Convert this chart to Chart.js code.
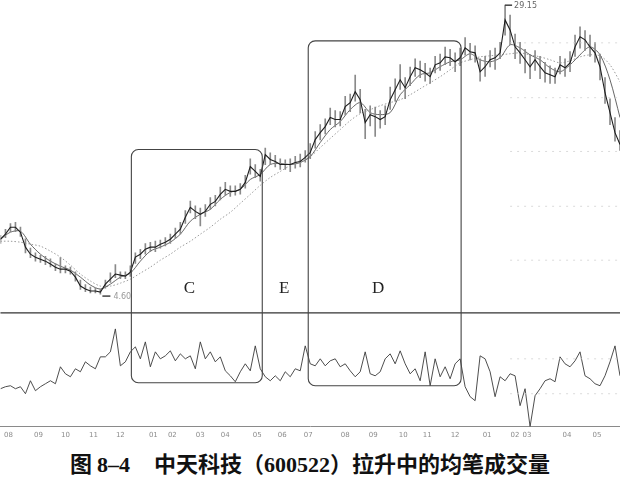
<!DOCTYPE html>
<html>
<head>
<meta charset="utf-8">
<script src="https://cdn.jsdelivr.net/npm/chart.js@4.4.1/dist/chart.umd.min.js"></script>
<style>
  html, body { margin: 0; padding: 0; background: #fff; }
  #wrap { position: relative; width: 620px; height: 481px; overflow: hidden; }
  #chart { position: absolute; left: 0; top: 0; }
  .caption {
    position: absolute; left: 0; top: 449px; width: 620px;
    text-align: center; color: #111;
    font: bold 22px "Noto Sans CJK SC", sans-serif; line-height: 26px;
  }
  .caption .num { font-family: "Liberation Serif", serif; font-size: 22px; }
  .caption .gap { display: inline-block; width: 24px; }
</style>
</head>
<body>
<div id="wrap">
  <canvas id="chart" width="620" height="443"></canvas>
  <div class="caption">图 <span class="num">8–4</span><span class="gap"></span>中天科技（<span class="num">600522</span>）拉升中的均笔成交量</div>
</div>
<script>
// month ticks on the bottom axis (position in sample index)
const monthLabels = ['08', '09', '10', '11', '12', '01', '02', '03', '04', '05', '06',
  '07', '08', '09', '10', '11', '12', '01', '02', '03', '04', '05'];
const monthPos = [1.6, 7.6, 13, 18.6, 24, 30.6, 34.4, 40, 45, 51.4, 56.4,
  61.6, 69, 74.6, 80.6, 85.4, 91, 97.4, 103, 105.4, 113.4, 119.4];

// price, one sample every few trading days
const closePrice = [9.26, 9.69, 10.28, 10.28, 9.86, 8.59, 7.99, 7.74, 7.57, 7.40,
  7.15, 6.89, 6.72, 6.72, 6.55, 6.04, 5.28, 5.03, 4.86, 4.86,
  4.77, 5.45, 5.87, 6.30, 6.21, 6.13, 6.47, 7.74, 7.99, 8.42,
  8.59, 8.59, 8.84, 9.01, 9.26, 9.69, 10.11, 11.13, 11.97, 11.63,
  11.38, 11.63, 12.23, 12.48, 13.07, 13.50, 13.33, 13.33, 13.50, 14.09,
  15.44, 15.02, 14.60, 16.46, 16.04, 15.87, 15.61, 15.61, 15.61, 15.78,
  15.87, 16.21, 16.63, 17.73, 18.32, 18.83, 19.60, 19.43, 19.43, 20.53,
  20.87, 21.80, 21.12, 19.17, 19.85, 19.68, 19.43, 19.68, 21.12, 21.97,
  22.81, 22.14, 23.07, 23.83, 23.66, 23.41, 23.07, 24.08, 24.25, 24.76,
  24.68, 24.34, 24.68, 25.52, 25.19, 25.10, 23.49, 23.92, 24.51, 24.68,
  25.10, 27.90, 27.05, 25.61, 25.10, 24.51, 23.92, 24.51, 23.92, 23.41,
  23.24, 23.07, 24.08, 23.83, 24.25, 25.61, 26.46, 26.20, 25.61, 25.10,
  23.92, 21.71, 20.02, 18.32, 17.31];
const highPrice = [9.6, 10.1, 10.6, 10.7, 10.3, 9.3, 8.5, 8.1, 7.9, 7.8,
  7.6, 7.2, 7.7, 7.0, 6.9, 6.5, 5.8, 5.4, 5.2, 5.1,
  5.0, 5.8, 6.4, 7.1, 6.5, 6.5, 7.0, 8.1, 8.4, 8.9,
  9.0, 9.1, 9.2, 9.4, 9.7, 10.2, 10.7, 11.7, 12.5, 12.1,
  11.9, 12.2, 12.8, 13.0, 13.7, 14.1, 13.8, 13.8, 14.0, 14.7,
  16.1, 15.6, 15.2, 17.0, 16.6, 16.4, 16.1, 16.0, 16.1, 16.3,
  16.5, 16.8, 17.4, 18.4, 19.0, 19.5, 20.4, 20.2, 20.1, 21.4,
  21.6, 23.2, 22.0, 20.3, 20.6, 20.5, 20.2, 20.6, 22.2, 22.9,
  24.1, 23.0, 23.9, 24.6, 24.4, 24.2, 23.8, 24.8, 25.0, 25.6,
  25.4, 25.1, 25.5, 26.4, 25.9, 25.7, 24.6, 24.8, 25.3, 25.5,
  26.0, 29.15, 28.3, 26.7, 26.0, 25.4, 24.9, 25.3, 24.8, 24.3,
  24.0, 23.8, 24.8, 24.6, 25.2, 26.6, 27.3, 27.0, 26.6, 26.0,
  25.0, 23.0, 21.2, 19.6, 18.5];
const lowPrice = [8.9, 9.4, 9.9, 9.9, 9.5, 8.1, 7.7, 7.4, 7.3, 7.1,
  6.9, 6.6, 6.4, 6.4, 6.3, 5.7, 5.0, 4.8, 4.7, 4.7,
  4.6, 5.1, 5.6, 6.0, 5.9, 5.9, 6.1, 7.2, 7.6, 8.0,
  8.2, 8.2, 8.5, 8.7, 8.9, 9.3, 9.7, 10.6, 11.5, 11.0,
  10.4, 11.2, 11.8, 12.1, 12.6, 13.0, 12.9, 13.0, 13.1, 13.6,
  14.8, 14.5, 14.2, 15.6, 15.6, 15.4, 15.2, 15.2, 15.0, 15.3,
  15.4, 15.8, 16.1, 17.0, 17.7, 18.2, 19.0, 18.8, 18.9, 19.8,
  20.1, 21.0, 20.0, 17.8, 18.9, 18.0, 18.7, 19.0, 20.3, 21.0,
  22.0, 21.2, 22.3, 23.1, 23.0, 22.7, 22.5, 23.4, 23.6, 24.1,
  24.0, 23.5, 24.0, 24.9, 24.5, 24.3, 22.7, 23.1, 23.9, 23.7,
  24.6, 26.6, 25.8, 24.6, 24.2, 23.4, 22.9, 23.6, 22.9, 22.6,
  22.5, 22.5, 23.3, 23.1, 23.5, 24.8, 25.5, 25.3, 24.8, 24.3,
  22.8, 20.8, 19.0, 17.6, 16.8];

// moving averages, one value every two samples
const midMA = [9.26, 9.86, 9.94, 8.84, 7.99, 7.40, 6.97, 6.64, 6.04, 5.37,
  5.03, 5.45, 6.04, 6.38, 7.40, 8.25, 8.59, 9.01, 9.69, 10.79,
  11.38, 11.80, 12.65, 13.24, 13.50, 14.34, 14.77, 15.61, 15.70, 15.61,
  15.78, 16.29, 17.48, 18.58, 19.26, 20.27, 20.87, 20.02, 19.85, 20.02,
  21.54, 22.39, 23.24, 23.41, 23.92, 24.34, 24.51, 25.02, 24.51, 24.34,
  24.68, 25.78, 25.52, 24.93, 24.51, 23.83, 23.49, 24.08, 24.93, 25.61,
  24.93, 22.81, 19.60];
const longMA = [9.09, 9.09, 9.01, 8.84, 8.67, 8.25, 7.74, 7.06, 6.30, 5.71,
  5.28, 5.28, 5.53, 5.87, 6.38, 6.89, 7.48, 7.99, 8.59, 9.09,
  9.69, 10.28, 10.96, 11.55, 12.31, 13.07, 13.84, 14.51, 15.02, 15.53,
  15.95, 16.29, 17.05, 17.82, 18.58, 19.34, 19.93, 20.27, 20.61, 20.87,
  21.12, 21.54, 22.05, 22.56, 23.07, 23.66, 24.25, 24.51, 24.76, 24.85,
  24.93, 25.02, 25.10, 24.93, 24.76, 24.51, 24.25, 24.42, 24.76, 24.93,
  24.85, 24.08, 22.64];

// 均笔成交量 (lower panel)
const perTrade = [3.8, 4.0, 4.1, 3.8, 4.0, 3.3, 4.6, 3.6, 4.0, 4.3,
  4.6, 4.3, 6.0, 5.3, 5.0, 5.8, 5.5, 6.5, 6.1, 5.8,
  7.0, 7.0, 7.5, 9.8, 6.1, 6.5, 7.5, 8.0, 6.8, 8.5,
  6.0, 7.5, 6.8, 7.1, 7.6, 6.6, 7.3, 6.8, 7.1, 5.8,
  8.5, 6.8, 7.5, 6.5, 7.0, 5.6, 5.1, 4.5, 5.5, 6.3,
  5.6, 8.1, 5.8, 5.0, 4.6, 5.1, 4.6, 5.5, 5.0, 5.8,
  5.6, 8.1, 6.3, 6.1, 6.8, 6.1, 6.6, 6.8, 6.0, 6.3,
  5.6, 5.0, 5.5, 7.5, 5.3, 5.1, 5.5, 6.8, 7.3, 6.3,
  7.6, 6.3, 5.3, 5.8, 4.6, 7.5, 4.1, 6.8, 5.0, 6.0,
  4.8, 6.3, 6.8, 4.0, 3.0, 2.6, 7.1, 6.8, 5.5, 3.0,
  5.0, 4.6, 5.3, 5.1, 2.1, 3.8, 0.0, 3.1, 3.8, 4.6,
  4.8, 4.5, 7.0, 6.3, 6.0, 6.6, 7.5, 5.1, 4.8, 4.3,
  4.1, 5.1, 6.5, 8.1, 5.1];

// axis ranges of the two panels (share one plot area)
const priceMin = -6.66, priceMax = 29.59;
const volMin = 0, volMax = 42.8;
const panelSplit = 11.4;            // top of lower panel, in volume units

// faint reference lines on the right
const gridPrices = [25.95, 21.29, 16.72, 12.06, 7.48];
const gridVolume = [6.8, 3.3];

// marked boxes: C and D; E is the gap between them
const boxFrom = [26.2, 61.6];
const boxTo = [52.4, 92.2];
const boxTop = [16.88, 26.12];     // price units
const boxBottom = [4.4, 4.1];      // volume units
const sectionNames = ['C', 'E', 'D'];
const sectionPos = [37.8, 56.8, 75.6];
const sectionPrice = 5.1;

const peakIndex = 101, troughIndex = 20;

function roundBox(ctx, l, t, r, b, rad) {
  ctx.beginPath();
  ctx.moveTo(l + rad, t);
  ctx.arcTo(r, t, r, b, rad);
  ctx.arcTo(r, b, l, b, rad);
  ctx.arcTo(l, b, l, t, rad);
  ctx.arcTo(l, t, r, t, rad);
  ctx.closePath();
  ctx.stroke();
}

const overlay = {
  id: 'overlay',
  afterDatasetsDraw(chart) {
    const { ctx, chartArea } = chart;
    const x = chart.scales.x, y = chart.scales.y, yv = chart.scales.yVol;
    ctx.save();

    // dotted guide lines on the right side
    ctx.strokeStyle = '#d2d2d2';
    ctx.lineWidth = 0.8;
    ctx.setLineDash([2, 5]);
    const gl = x.getPixelForValue(102), gr = chartArea.right;
    gridPrices.forEach(p => {
      const py = y.getPixelForValue(p);
      ctx.beginPath(); ctx.moveTo(gl, py); ctx.lineTo(gr, py); ctx.stroke();
    });
    gridVolume.forEach(v => {
      const py = yv.getPixelForValue(v);
      ctx.beginPath(); ctx.moveTo(gl, py); ctx.lineTo(gr, py); ctx.stroke();
    });
    ctx.setLineDash([]);

    // panel separator
    const sy = yv.getPixelForValue(panelSplit);
    ctx.strokeStyle = '#333';
    ctx.lineWidth = 1.2;
    ctx.beginPath(); ctx.moveTo(chartArea.left, sy); ctx.lineTo(chartArea.right, sy); ctx.stroke();

    // boxes
    ctx.strokeStyle = '#444';
    ctx.lineWidth = 1.1;
    boxFrom.forEach((f, i) => {
      roundBox(ctx, x.getPixelForValue(f), y.getPixelForValue(boxTop[i]),
        x.getPixelForValue(boxTo[i]), yv.getPixelForValue(boxBottom[i]), 7);
    });

    // section letters
    ctx.fillStyle = '#222';
    ctx.font = '17px "Liberation Serif", serif';
    ctx.textAlign = 'center';
    ctx.textBaseline = 'middle';
    sectionNames.forEach((n, i) => {
      ctx.fillText(n, x.getPixelForValue(sectionPos[i]), y.getPixelForValue(sectionPrice));
    });

    // high / low markers
    ctx.font = '8px "DejaVu Sans", sans-serif';
    ctx.textAlign = 'left';
    ctx.strokeStyle = '#333';
    ctx.lineWidth = 1.4;
    const px = x.getPixelForValue(peakIndex), py = y.getPixelForValue(highPrice[peakIndex]);
    ctx.beginPath(); ctx.moveTo(px, py); ctx.lineTo(px + 7, py); ctx.stroke();
    ctx.fillStyle = '#666';
    ctx.fillText(highPrice[peakIndex].toFixed(2), px + 9, py + 1);
    const tx = x.getPixelForValue(troughIndex), ty = y.getPixelForValue(lowPrice[troughIndex]);
    ctx.beginPath(); ctx.moveTo(tx + 2, ty + 2); ctx.lineTo(tx + 10, ty + 2); ctx.stroke();
    ctx.fillStyle = '#999';
    ctx.fillText(lowPrice[troughIndex].toFixed(2), tx + 13, ty + 3);

    ctx.restore();
  }
};

const maX = longMA.map((_, i) => i * 2);

new Chart(document.getElementById('chart'), {
  type: 'line',
  data: {
    datasets: [
      {
        label: '收盘',
        data: closePrice.map((c, i) => ({ x: i, y: c })),
        yAxisID: 'y',
        borderColor: '#1e1e1e',
        borderWidth: 1.1,
        pointRadius: 0,
        tension: 0,
      },
      {
        type: 'bar',
        label: '高低',
        data: closePrice.map((_, i) => ({ x: i, y: [lowPrice[i], highPrice[i]] })),
        yAxisID: 'y',
        backgroundColor: '#8a8a8a',
        barThickness: 1,
      },
      {
        label: '中期均线',
        data: midMA.map((m, i) => ({ x: maX[i], y: m })),
        yAxisID: 'y',
        borderColor: '#555',
        borderWidth: 0.9,
        pointRadius: 0,
        tension: 0.3,
      },
      {
        label: '长期均线',
        data: longMA.map((m, i) => ({ x: maX[i], y: m })),
        yAxisID: 'y',
        borderColor: '#9c9c9c',
        borderWidth: 1,
        borderDash: [1.5, 2],
        pointRadius: 0,
        tension: 0.3,
      },
      {
        label: '均笔成交量',
        data: perTrade.map((v, i) => ({ x: i, y: v })),
        yAxisID: 'yVol',
        borderColor: '#3a3a3a',
        borderWidth: 0.9,
        pointRadius: 0,
        tension: 0,
      },
    ],
  },
  options: {
    responsive: false,
    animation: false,
    layout: { padding: 0, autoPadding: false },
    plugins: {
      legend: { display: false },
      tooltip: { enabled: false },
    },
    scales: {
      x: {
        type: 'linear',
        min: 0,
        max: closePrice.length - 1,
        offset: false,
        grid: { display: false, drawTicks: false },
        border: { display: true, color: '#8a8a8a', dash: [3, 2] },
        afterBuildTicks: (axis) => { axis.ticks = monthPos.map(v => ({ value: v })); },
        ticks: {
          autoSkip: false,
          maxRotation: 0,
          padding: 4,
          color: '#8c8c8c',
          font: { size: 7, family: 'DejaVu Sans' },
          callback: (v, i) => monthLabels[i],
        },
      },
      y: { display: false, min: priceMin, max: priceMax },
      yVol: { display: false, min: volMin, max: volMax },
    },
  },
  plugins: [overlay],
});
</script>
</body>
</html>
